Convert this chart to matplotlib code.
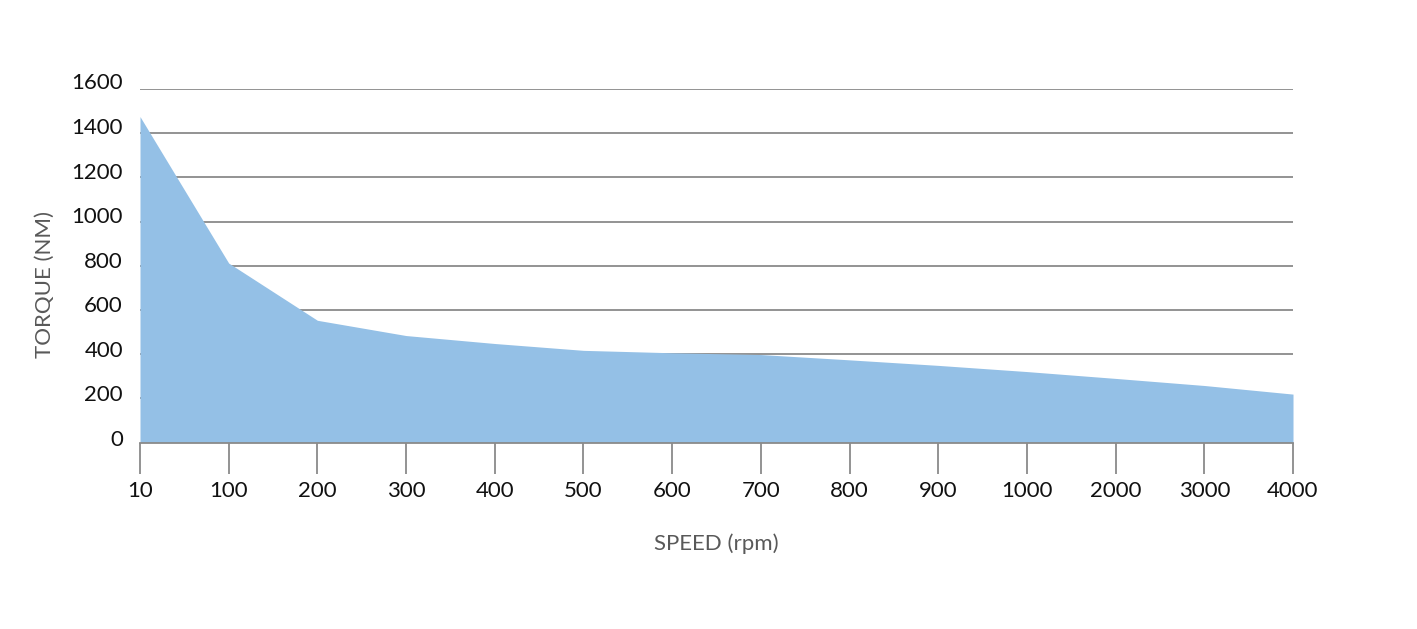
import matplotlib
matplotlib.use("Agg")
import matplotlib.pyplot as plt
from matplotlib.transforms import ScaledTranslation, blended_transform_factory

speeds = ["10", "100", "200", "300", "400", "500", "600", "700", "800", "900", "1000", "2000", "3000", "4000"]
torque = [1475, 812, 553, 484, 448, 417, 406, 398, 374, 349, 321, 290, 258, 219]
yticks = [0, 200, 400, 600, 800, 1000, 1200, 1400, 1600]

plt.rcParams['font.family'] = ['Lato', 'DejaVu Sans']

fig = plt.figure(figsize=(14.17, 6.29), dpi=100)
ax = fig.add_axes([0.0988, 0.2965, 0.8137, 0.5621])

x = list(range(len(speeds)))
ax.fill_between(x, torque, 0, color="#94C0E6", linewidth=0, zorder=3)

ax.set_xlim(0, len(speeds) - 1)
ax.set_ylim(0, 1600)
ax.set_yticks(yticks)
ax.set_yticklabels([])
ax.set_xticks(x)
ax.set_xticklabels(speeds, fontsize=16, color="#111111")

# y tick labels drawn slightly above their gridlines, as in the reference
for v in yticks:
    dy = 2.5 + 3.0 * v / yticks[-1]
    tr = blended_transform_factory(ax.transAxes, ax.transData) + \
        ScaledTranslation(-17 / 100, dy / 100, fig.dpi_scale_trans)
    ax.text(0, v, str(v), transform=tr, ha="right", va="center",
            fontsize=16, color="#111111")

for v in yticks[1:]:
    ax.axhline(v, color="#8a8a8a", linewidth=1.3, zorder=1)

for s in ["top", "right", "left"]:
    ax.spines[s].set_visible(False)
ax.spines["bottom"].set_color("#8a8a8a")
ax.spines["bottom"].set_linewidth(1.3)
ax.spines["bottom"].set_zorder(4)

ax.tick_params(axis="y", length=0)
ax.tick_params(axis="x", length=22, width=1.3, color="#8a8a8a", pad=6, direction="out")

ax.set_ylabel("TORQUE (NM)", fontsize=16, color="#595959")
ax.yaxis.set_label_coords(-0.074, 0.446)
ax.set_xlabel("SPEED (rpm)", fontsize=16, color="#595959", labelpad=23)

fig.savefig("out.png", dpi=100, facecolor="white")
